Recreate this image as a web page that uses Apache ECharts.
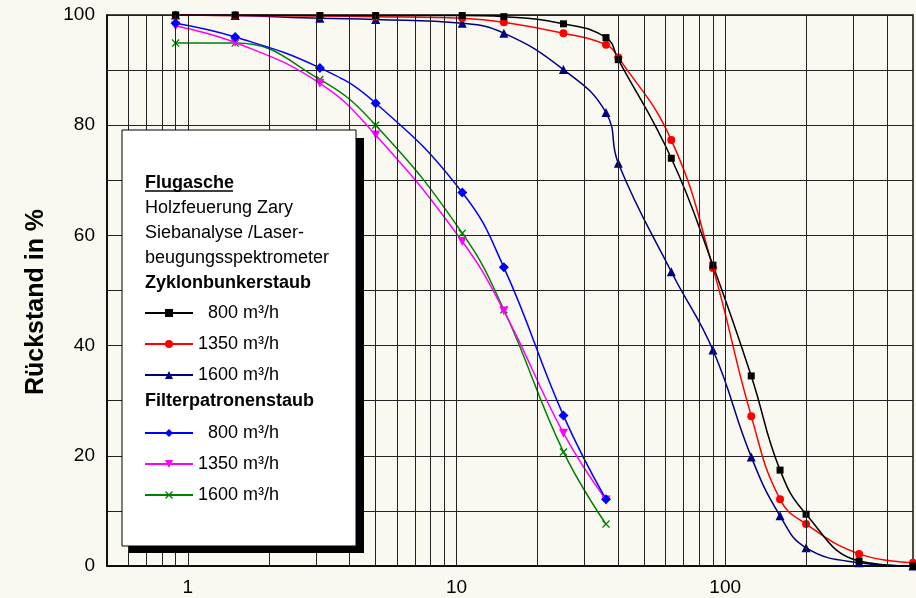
<!DOCTYPE html>
<html lang="de">
<head>
<meta charset="UTF-8">
<title>Flugasche Holzfeuerung Zary</title>
<script src="https://cdn.jsdelivr.net/npm/echarts@6/dist/echarts.min.js"></script>
<style>
  html, body { margin: 0; padding: 0; background: #f9f9f1; }
  #main { width: 916px; height: 598px; }
</style>
</head>
<body>
<div id="main"></div>
<script type="text/javascript">
    // Korngrößen in µm
    var xZyklon = [0.9, 1.5, 3.1, 5, 10.5, 15, 25, 36, 40, 63, 90, 125, 160, 200, 315, 500];
    var xFilter = [0.9, 1.5, 3.1, 5, 10.5, 15, 25, 36];

    // Rückstand in %
    var zyklon800  = [100, 100, 99.9, 99.9, 99.9, 99.7, 98.4, 95.9, 91.9, 74.0, 54.6, 34.5, 17.4, 9.4, 0.9, 0];
    var zyklon1350 = [100, 99.9, 99.8, 99.7, 99.4, 98.7, 96.7, 94.6, 92.3, 77.3, 54.1, 27.2, 12.1, 7.6, 2.2, 0.6];
    var zyklon1600 = [100, 99.9, 99.4, 99.2, 98.5, 96.7, 90.1, 82.3, 73.1, 53.4, 39.2, 19.8, 9.1, 3.3, 0.6, 0];
    var filter800  = [98.5, 96.0, 90.4, 84.0, 67.8, 54.2, 27.3, 12.1];
    var filter1350 = [98.0, 95.0, 87.6, 78.2, 58.9, 46.3, 24.1, 12.0];
    var filter1600 = [94.9, 94.9, 88.3, 80.0, 60.4, 46.5, 20.7, 7.6];

    // senkrechte Gitterlinien der log. Achse
    var gridX = [0.6, 0.7, 0.8, 0.9, 1, 2, 3, 4, 5, 6, 7, 8, 9, 10, 20, 30, 40, 50, 60, 70, 80, 90, 100, 200, 300, 400];

    var legendNames = {
        Z800: '\u2007800 m³/h', Z1350: '1350 m³/h', Z1600: '1600 m³/h',
        F800: '\u2007800 m³/h', F1350: '1350 m³/h', F1600: '1600 m³/h'
    };

    function pairs(xs, ys) {
        return ys.map(function (y, i) { return [xs[i], y]; });
    }

    var crossPath = 'path://M0,1.2L1.2,0L5,3.8L8.8,0L10,1.2L6.2,5L10,8.8L8.8,10L5,6.2L1.2,10L0,8.8L3.8,5Z';
    var font = 'Liberation Sans, Arial, sans-serif';
    var gridColor = '#222';

    function lineSeries(name, color, symbol, size, data, extra) {
        var s = {
            name: name,
            type: 'line',
            smooth: 0.45,
            symbol: symbol,
            symbolSize: size,
            showAllSymbol: true,
            animation: false,
            lineStyle: {color: color, width: 1.5},
            itemStyle: {color: color},
            data: data
        };
        for (var k in extra) s[k] = extra[k];
        return s;
    }

    var legendCommon = {
        orient: 'vertical',
        left: 144,
        padding: 0,
        itemWidth: 48,
        itemHeight: 10,
        itemGap: 11,
        selectedMode: false,
        z: 200,
        textStyle: {fontFamily: font, fontSize: 18, color: '#000', lineHeight: 20},
        formatter: function (n) { return legendNames[n]; }
    };

    var option = {
        backgroundColor: '#f9f9f1',
        animation: false,
        grid: {
            left: 107,
            top: 15,
            width: 810,
            height: 551,
            show: true,
            backgroundColor: '#f9f9f1',
            borderColor: '#111',
            borderWidth: 1.5
        },
        xAxis: {
            type: 'log',
            logBase: 10,
            min: 0.5,
            max: 500,
            axisLine: {lineStyle: {color: '#000', width: 1.5}},
            axisTick: {show: false},
            splitLine: {show: false},
            axisLabel: {
                margin: 12,
                fontFamily: font,
                fontSize: 19,
                color: '#000',
                formatter: function (v) {
                    var l = Math.log10(v);
                    return Math.abs(l - Math.round(l)) < 1e-6 ? String(Math.round(v)) : '';
                }
            }
        },
        yAxis: {
            type: 'value',
            min: 0,
            max: 100,
            interval: 10,
            axisLine: {show: true, lineStyle: {color: '#000', width: 1.5}},
            axisTick: {show: false},
            splitLine: {show: true, lineStyle: {color: gridColor, width: 1}},
            axisLabel: {
                margin: 12,
                fontFamily: font,
                fontSize: 19,
                color: '#000',
                formatter: function (v) { return v % 20 === 0 ? String(v) : ''; }
            }
        },
        legend: [
            Object.assign({}, legendCommon, {top: 303, data: ['Z800', 'Z1350', 'Z1600']}),
            Object.assign({}, legendCommon, {top: 423, data: ['F800', 'F1350', 'F1600']})
        ],
        graphic: [
            {type: 'rect', z: 100, shape: {x: 129, y: 138, width: 235, height: 415}, style: {fill: '#000'}},
            {type: 'rect', z: 101, shape: {x: 122, y: 130, width: 234, height: 416}, style: {fill: '#fff', stroke: '#000', lineWidth: 1}},
            {type: 'text', z: 102, x: 145, y: 183, style: {text: 'Flugasche', font: 'bold 18px ' + font, fill: '#000', verticalAlign: 'middle'}},
            {type: 'line', z: 102, shape: {x1: 145, y1: 191, x2: 233, y2: 191}, style: {stroke: '#000', lineWidth: 1.5}},
            {type: 'text', z: 102, x: 145, y: 208, style: {text: 'Holzfeuerung Zary', font: '18px ' + font, fill: '#000', verticalAlign: 'middle'}},
            {type: 'text', z: 102, x: 145, y: 233, style: {text: 'Siebanalyse /Laser-', font: '18px ' + font, fill: '#000', verticalAlign: 'middle'}},
            {type: 'text', z: 102, x: 145, y: 258, style: {text: 'beugungsspektrometer', font: '18px ' + font, fill: '#000', verticalAlign: 'middle'}},
            {type: 'text', z: 102, x: 145, y: 283, style: {text: 'Zyklonbunkerstaub', font: 'bold 18px ' + font, fill: '#000', verticalAlign: 'middle'}},
            {type: 'text', z: 102, x: 145, y: 401, style: {text: 'Filterpatronenstaub', font: 'bold 18px ' + font, fill: '#000', verticalAlign: 'middle'}},
            {type: 'text', z: 102, x: 36, y: 302, rotation: Math.PI / 2,
                style: {text: 'Rückstand in %', font: 'bold 25px ' + font, fill: '#000', align: 'center', verticalAlign: 'middle'}}
        ],
        series: [
            {
                type: 'line',
                data: [],
                z: 1,
                silent: true,
                markLine: {
                    silent: true,
                    symbol: 'none',
                    animation: false,
                    label: {show: false},
                    lineStyle: {color: gridColor, width: 1, type: 'solid'},
                    data: gridX.map(function (v) { return {xAxis: v}; })
                }
            },
            lineSeries('F1600', '#008000', crossPath, 8, pairs(xFilter, filter1600)),
            lineSeries('F1350', '#ff00ff', 'triangle', 9, pairs(xFilter, filter1350), {symbolRotate: 180}),
            lineSeries('F800', '#0000ff', 'diamond', 10, pairs(xFilter, filter800)),
            lineSeries('Z1600', '#000080', 'triangle', 9, pairs(xZyklon, zyklon1600)),
            lineSeries('Z1350', '#ff0000', 'circle', 8, pairs(xZyklon, zyklon1350)),
            lineSeries('Z800', '#000000', 'rect', 7, pairs(xZyklon, zyklon800))
        ]
    };

    var myChart = echarts.init(document.getElementById('main'));
    myChart.setOption(option);
</script>
</body>
</html>
